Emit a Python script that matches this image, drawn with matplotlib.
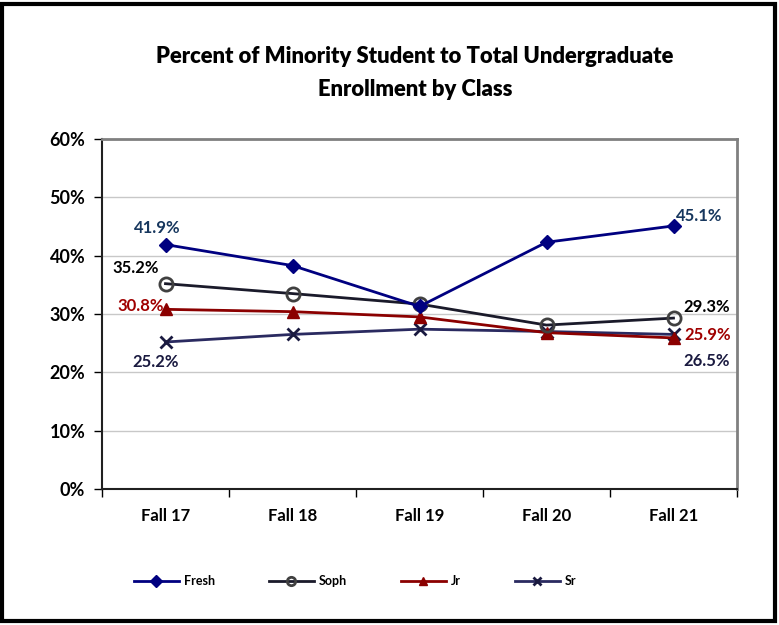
import matplotlib
matplotlib.use("Agg")
import matplotlib.pyplot as plt
from matplotlib.patches import Rectangle

plt.rcParams['font.family'] = ['Lato', 'DejaVu Sans']
plt.rcParams['font.weight'] = 'bold'

categories = ["Fall 17", "Fall 18", "Fall 19", "Fall 20", "Fall 21"]
fresh = [41.9, 38.3, 31.3, 42.3, 45.1]
soph = [35.2, 33.5, 31.7, 28.1, 29.3]
jr = [30.8, 30.4, 29.5, 26.8, 25.9]
sr = [25.2, 26.5, 27.4, 27.0, 26.5]
yticks = [0, 10, 20, 30, 40, 50, 60]
ytick_labels = ["0%", "10%", "20%", "30%", "40%", "50%", "60%"]

W, H = 779, 625
fig = plt.figure(figsize=(W / 100, H / 100), dpi=100)
ax = fig.add_axes([102 / W, 1 - 489 / H, (737 - 102) / W, (489 - 139) / H])

x = list(range(len(categories)))
c_fresh = "#000080"
c_soph = "#1a1a2a"
c_jr = "#8B0000"
c_sr = "#2a2a60"

ax.plot(x, fresh, color=c_fresh, lw=2, marker="D", ms=7, mfc=c_fresh, mec=c_fresh, label="Fresh", zorder=5)
ax.plot(x, soph, color=c_soph, lw=2, marker="o", ms=9.5, mfc="none", mec="#404040", mew=2, label="Soph", zorder=4)
ax.plot(x, jr, color=c_jr, lw=2, marker="^", ms=8, mfc=c_jr, mec=c_jr, label="Jr", zorder=3)
ax.plot(x, sr, color=c_sr, lw=2, marker="x", ms=8, mew=2, mec="#1a1a40", label="Sr", zorder=2)

ax.set_xlim(-0.5, len(categories) - 0.5)
ax.set_ylim(0, 60)
ax.set_yticks(yticks)
ax.set_yticklabels(ytick_labels, fontsize=13, fontweight="bold")
ax.set_xticks(x)
ax.set_xticklabels(categories, fontsize=12, fontweight="bold")
ax.set_xticks([i - 0.5 for i in range(len(categories) + 1)], minor=True)
ax.tick_params(axis="x", which="major", length=0, pad=14)
ax.tick_params(axis="x", which="minor", length=6, width=1, direction="out", color="#000000")
ax.tick_params(axis="y", length=6, width=1, direction="out", pad=6)
ax.grid(axis="y", color="#c8c8c8", lw=1)
ax.set_axisbelow(True)
for s in ["top", "right"]:
    ax.spines[s].set_color("#808080")
    ax.spines[s].set_linewidth(2)
for s in ["left", "bottom"]:
    ax.spines[s].set_color("#202020")
    ax.spines[s].set_linewidth(1.5)

def lab(xi, val, series_val, dx, dy, color):
    ax.annotate(f"{val:.1f}%", (xi, series_val), xytext=(dx, dy), textcoords="offset pixels",
                ha="center", va="center", fontsize=12, fontweight="bold", color=color, zorder=10)

lab(0, fresh[0], fresh[0], -8, 17, "#17375E")
lab(4, fresh[4], fresh[4], 26, 10, "#17375E")
lab(0, soph[0], soph[0], -30, 16, "#000000")
lab(4, soph[4], soph[4], 33, 11, "#000000")
lab(0, jr[0], jr[0], -25, 3, "#A00000")
lab(4, jr[4], jr[4], 34, 3, "#A00000")
lab(0, sr[0], sr[0], -10, -20, "#1a1a40")
lab(4, sr[4], sr[4], 33, -27, "#1a1a40")

fig.text(415 / W, 1 - 73 / H, "Percent of Minority Student to Total Undergraduate\nEnrollment by Class",
         ha="center", va="center", fontsize=15.8, fontweight="heavy", linespacing=1.65)

handles, labels = ax.get_legend_handles_labels()
leg = fig.legend(handles, labels, loc="center", bbox_to_anchor=(355 / W, 1 - 581 / H), ncol=4,
                 frameon=False, handlelength=3.6, columnspacing=4.3, handletextpad=0.4,
                 prop={"weight": "bold", "size": 9})
for h in leg.legend_handles:
    h.set_markersize(6)

fig.patches.append(Rectangle((2 / W, 4 / H), (775 - 2) / W, (621 - 4) / H, transform=fig.transFigure,
                             fill=False, ec="black", lw=3))

fig.savefig("out.png", dpi=100)
